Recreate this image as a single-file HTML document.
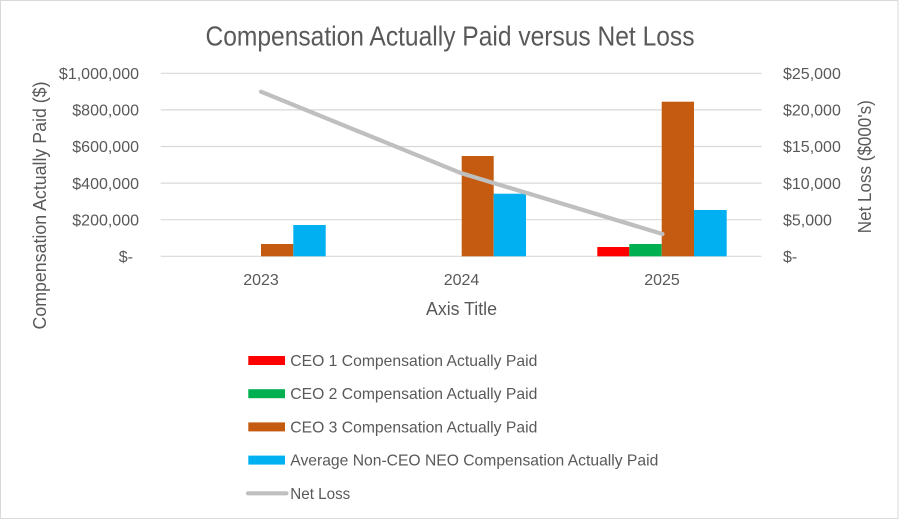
<!DOCTYPE html>
<html>
<head>
<meta charset="utf-8">
<style>
  html, body { margin:0; padding:0; background:#fff; }
  svg { display:block; }
  text { font-family: "Liberation Sans", Arial, sans-serif; fill:#595959; }
</style>
</head>
<body>
<svg width="900" height="520" viewBox="0 0 900 520" xmlns="http://www.w3.org/2000/svg">
  <rect x="0" y="0" width="900" height="520" fill="#fff"/>
  <rect x="0.5" y="0.5" width="897.5" height="518" fill="none" stroke="#d9d9d9" stroke-width="1"/>

  <!-- Title -->
  <text x="450" y="45.5" font-size="28" text-anchor="middle" textLength="489" lengthAdjust="spacingAndGlyphs">Compensation Actually Paid versus Net Loss</text>

  <!-- Gridlines -->
  <g stroke="#d9d9d9" stroke-width="1.2">
    <line x1="160.7" y1="73.3" x2="761.7" y2="73.3"/>
    <line x1="160.7" y1="109.9" x2="761.7" y2="109.9"/>
    <line x1="160.7" y1="146.5" x2="761.7" y2="146.5"/>
    <line x1="160.7" y1="183.1" x2="761.7" y2="183.1"/>
    <line x1="160.7" y1="219.7" x2="761.7" y2="219.7"/>
    <line x1="160.7" y1="256.3" x2="761.7" y2="256.3"/>
  </g>

  <!-- Left tick labels -->
  <g font-size="16" text-anchor="end">
    <text x="139" y="79">$1,000,000</text>
    <text x="139" y="115.6">$800,000</text>
    <text x="139" y="152.2">$600,000</text>
    <text x="139" y="188.8">$400,000</text>
    <text x="139" y="225.4">$200,000</text>
    <text x="133" y="262">$-</text>
  </g>

  <!-- Right tick labels -->
  <g font-size="16" text-anchor="start">
    <text x="783" y="79">$25,000</text>
    <text x="783" y="115.6">$20,000</text>
    <text x="783" y="152.2">$15,000</text>
    <text x="783" y="188.8">$10,000</text>
    <text x="783" y="225.4">$5,000</text>
    <text x="783" y="262">$-</text>
  </g>

  <!-- Bars -->
  <!-- 2023 -->
  <rect x="261" y="244" width="32.3" height="12.3" fill="#c55a11"/>
  <rect x="293.3" y="225" width="32.4" height="31.3" fill="#00b0f0"/>
  <!-- 2024 -->
  <rect x="461.7" y="156" width="32" height="100.3" fill="#c55a11"/>
  <rect x="493.7" y="193.7" width="32.3" height="62.6" fill="#00b0f0"/>
  <!-- 2025 -->
  <rect x="597.3" y="247" width="32" height="9.3" fill="#ff0000"/>
  <rect x="629.3" y="244" width="32.4" height="12.3" fill="#00b050"/>
  <rect x="661.7" y="101.7" width="32.3" height="154.6" fill="#c55a11"/>
  <rect x="694" y="210" width="32.7" height="46.3" fill="#00b0f0"/>

  <!-- Net Loss line -->
  <polyline points="261,91.7 461.5,173.3 662.5,234" fill="none" stroke="#bfbfbf" stroke-width="4.2" stroke-linecap="round" stroke-linejoin="round"/>

  <!-- Category labels -->
  <g font-size="16" text-anchor="middle">
    <text x="261" y="285">2023</text>
    <text x="461.5" y="285">2024</text>
    <text x="662" y="285">2025</text>
  </g>

  <!-- Axis titles -->
  <text x="461.5" y="315" font-size="18" text-anchor="middle" textLength="71" lengthAdjust="spacingAndGlyphs">Axis Title</text>
  <text transform="translate(46,205.5) rotate(-90)" x="0" y="0" font-size="18" text-anchor="middle" textLength="248" lengthAdjust="spacingAndGlyphs">Compensation Actually Paid ($)</text>
  <text transform="translate(871,166.7) rotate(-90)" x="0" y="0" font-size="18" text-anchor="middle" textLength="133" lengthAdjust="spacingAndGlyphs">Net Loss ($000's)</text>

  <!-- Legend -->
  <rect x="248.3" y="356" width="36.7" height="9" fill="#ff0000"/>
  <text x="290.3" y="366" font-size="15.6" textLength="247" lengthAdjust="spacingAndGlyphs">CEO 1 Compensation Actually Paid</text>

  <rect x="248.3" y="389.2" width="36.7" height="9" fill="#00b050"/>
  <text x="290.3" y="399.2" font-size="15.6" textLength="247" lengthAdjust="spacingAndGlyphs">CEO 2 Compensation Actually Paid</text>

  <rect x="248.3" y="422.4" width="36.7" height="9" fill="#c55a11"/>
  <text x="290.3" y="432.4" font-size="15.6" textLength="247" lengthAdjust="spacingAndGlyphs">CEO 3 Compensation Actually Paid</text>

  <rect x="248.3" y="455.6" width="36.7" height="9" fill="#00b0f0"/>
  <text x="290.3" y="465.6" font-size="15.6" textLength="368" lengthAdjust="spacingAndGlyphs">Average Non-CEO NEO Compensation Actually Paid</text>

  <line x1="248" y1="493.3" x2="286.5" y2="493.3" stroke="#bfbfbf" stroke-width="4.2" stroke-linecap="round"/>
  <text x="290.3" y="498.8" font-size="15.6" textLength="60" lengthAdjust="spacingAndGlyphs">Net Loss</text>
</svg>
</body>
</html>
